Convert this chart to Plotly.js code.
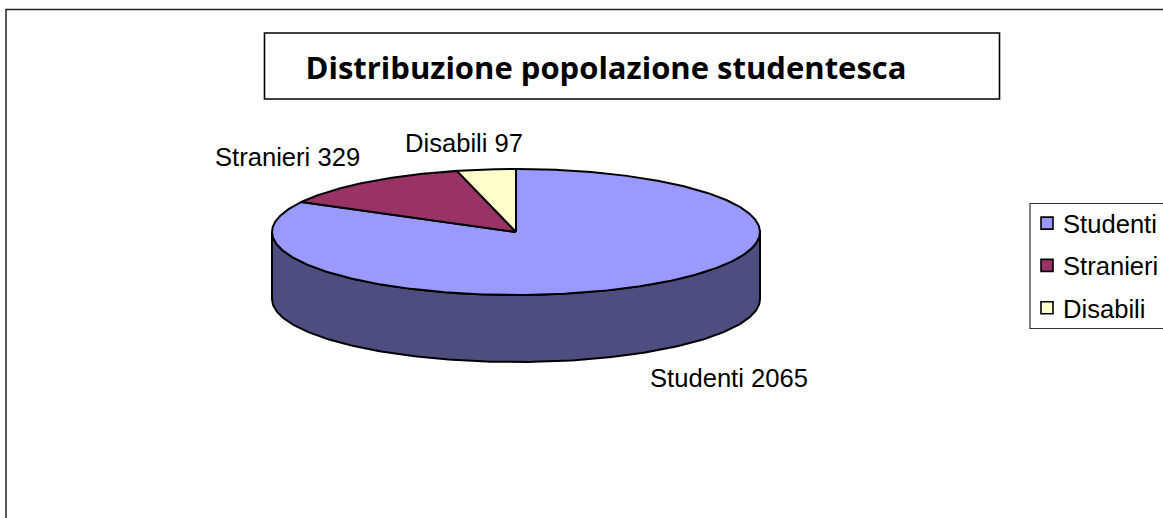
<!DOCTYPE html>
<html>
<head>
<meta charset="utf-8">
<script src="https://cdn.plot.ly/plotly-3.0.1.min.js"></script>
<style>html,body{margin:0;padding:0;background:#fff;overflow:hidden}#chart{width:1163px;height:518px}</style>
</head>
<body>
<div id="chart"></div>
<script>
const categories = ['Studenti', 'Stranieri', 'Disabili'];
const values = [2065, 329, 97];
const topColors = ['#9999FF', '#993366', '#FFFFCC'];
const sideColors = ['#4D4D80', '#4D1A33', '#808066'];
const chartTitle = 'Distribuzione popolazione studentesca';

const W = 1163, H = 518;
const cx = 516, cy = 232, rx = 244, ry = 63, depth = 67;
const labelPos = [[728.5, 378], [287.5, 157], [463.5, 143]];

const total = values.reduce((a, b) => a + b, 0);
const rad = d => d * Math.PI / 180;
const px = a => cx + rx * Math.sin(rad(a));
const py = a => cy - ry * Math.cos(rad(a));

const traces = [];
let start = 0;
const slices = values.map(v => {
  const s = { a0: start, a1: start + v / total * 360 };
  start = s.a1;
  return s;
});

// side walls: only the front half of the rim (90deg..270deg) is visible
slices.forEach((s, i) => {
  const a0 = Math.max(s.a0, 90), a1 = Math.min(s.a1, 270);
  if (a1 <= a0) return;
  const xs = [], ys = [];
  for (let a = a0; a <= a1; a += 1) { xs.push(px(a)); ys.push(py(a)); }
  for (let a = a1; a >= a0; a -= 1) { xs.push(px(a)); ys.push(py(a) + depth); }
  xs.push(xs[0]); ys.push(ys[0]);
  traces.push({ type: 'scatter', mode: 'lines', x: xs, y: ys, fill: 'toself', fillcolor: sideColors[i],
    line: { color: '#000', width: 2 }, showlegend: false, hoverinfo: 'skip' });
});

// top faces
slices.forEach((s, i) => {
  const xs = [cx], ys = [cy];
  for (let a = s.a0; a < s.a1; a += 0.5) { xs.push(px(a)); ys.push(py(a)); }
  xs.push(px(s.a1), cx); ys.push(py(s.a1), cy);
  traces.push({ type: 'scatter', mode: 'lines', x: xs, y: ys, fill: 'toself', fillcolor: topColors[i],
    line: { color: '#000', width: 2 }, name: categories[i], showlegend: false,
    hoverinfo: 'text', text: categories[i] + ' ' + values[i] });
});

// legend entries
categories.forEach((c, i) => {
  traces.push({ type: 'scatter', mode: 'markers', x: [null], y: [null], name: c, legendgroup: c,
    marker: { symbol: 'square', size: 12, color: topColors[i], line: { color: '#000', width: 1.6 } } });
});

const boxes = [
  { x0: 6, y0: 9.5, x1: 1300, y1: 700, color: '#222', width: 1.5 },
  { x0: 264.5, y0: 33, x1: 999.5, y1: 99, color: '#000', width: 1.6 },
  { x0: 1030, y0: 203.5, x1: 1300, y1: 328.5, color: '#333', width: 1.2 }
];

const layout = {
  width: W, height: H,
  margin: { l: 0, r: 0, t: 0, b: 0, autoexpand: false },
  paper_bgcolor: '#fff', plot_bgcolor: '#fff',
  xaxis: { range: [0, W], visible: false, fixedrange: true },
  yaxis: { range: [H, 0], visible: false, fixedrange: true },
  title: { text: '<b>' + chartTitle + '</b>', x: 606 / W, xref: 'paper', xanchor: 'center',
    y: 1 - 68 / H, yref: 'paper', yanchor: 'middle', font: { family: 'Open Sans', size: 31, color: '#000' } },
  shapes: boxes.map(b => ({ type: 'rect', xref: 'x', yref: 'y', x0: b.x0, y0: b.y0, x1: b.x1, y1: b.y1,
    line: { color: b.color, width: b.width }, fillcolor: 'rgba(0,0,0,0)', layer: 'below' })),
  annotations: categories.map((c, i) => ({ x: labelPos[i][0], y: labelPos[i][1], xref: 'x', yref: 'y',
    text: c + ' ' + values[i], showarrow: false, xanchor: 'center', yanchor: 'middle',
    font: { family: 'Liberation Sans', size: 25.6, color: '#000' } })),
  showlegend: true,
  legend: { x: 1023 / W, xanchor: 'left', y: 1 - 200 / H, yanchor: 'top', bgcolor: 'rgba(0,0,0,0)',
    borderwidth: 0, tracegroupgap: 6, traceorder: 'grouped',
    font: { family: 'Liberation Sans', size: 25.6, color: '#000' } }
};

Plotly.newPlot('chart', traces, layout, { displayModeBar: false }).then(gd => {
  // the reference keys sit closer to their labels than Plotly's default slot
  gd.querySelectorAll('.legend .legendpoints path').forEach(p => {
    const t = p.getAttribute('transform') || '';
    p.setAttribute('transform', t.replace(/translate\(([\d.]+)/, (m, v) => 'translate(' + (parseFloat(v) + 4)));
  });
});
</script>
</body>
</html>
